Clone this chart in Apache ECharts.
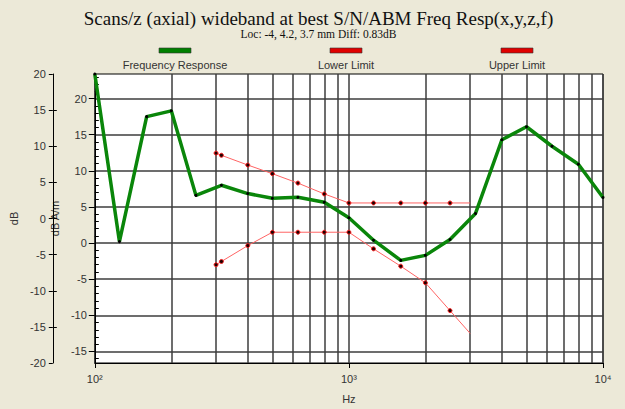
<!DOCTYPE html>
<html>
<head>
<meta charset="utf-8">
<script src="https://cdn.jsdelivr.net/npm/echarts@6/dist/echarts.min.js"></script>
<style>
html,body{margin:0;padding:0;background:#ECE9D8;}
#c{width:625px;height:409px;}
</style>
</head>
<body>
<div id="c"></div>
<script>
// ---- data ----
const respFreq = [100,125,160,200,250,315,400,500,630,800,1000,1250,1600,2000,2500,3150,4000,5000,6300,8000,10000];
const respVal  = [23.4,0.2,17.5,18.3,6.6,8.0,6.85,6.2,6.35,5.65,3.5,0.4,-2.4,-1.7,0.5,4.1,14.3,16.1,13.4,10.9,6.3];
const limFreq  = [300,315,400,500,630,800,1000,1250,1600,2000,2500,3000];
const upperVal = [12.45,12.15,10.8,9.6,8.3,6.8,5.55,5.55,5.55,5.55,5.55,5.55];
const lowerVal = [-3.0,-2.55,-0.35,1.5,1.5,1.5,1.5,-0.8,-3.2,-5.5,-9.35,-12.5];
const gridFreqs = [200,300,400,500,600,700,800,900,2000,3000,4000,5000,6000,7000,8000,9000];
const innerTicks = [-15,-10,-5,0,5,10,15,20];
const innerMinor = [-16,-14,-13,-12,-11,-9,-8,-7,-6,-4,-3,-2,-1,1,2,3,4,6,7,8,9,11,12,13,14,16,17,18,19,21,22,23];
const outerTicks = [-20,-15,-10,-5,0,5,10,15,20];
const outerInner = [-15,-10,-5,0,5,10,15];
const seriesNames = ['Frequency Response','Lower Limit','Upper Limit'];
const titleText = 'Scans/z (axial) wideband at best S/N/ABM Freq Resp(x,y,z,f)';
const subText = 'Loc: -4, 4.2, 3.7 mm Diff: 0.83dB';

const sup = {'2':'\u00B2','3':'\u00B3','4':'\u2074','5':'\u2075'};
function pairs(xs, ys, lastNoMarker){
  return xs.map((x,i)=>{
    if (lastNoMarker && i === xs.length-1) return {value:[x,ys[i]], symbol:'none'};
    return [x, ys[i]];
  });
}
const gridColor = '#3c3c3c';
const chart = echarts.init(document.getElementById('c'), null, {renderer:'svg'});
const legendX = [175, 346, 517];
const legendColors = ['#008000', '#e00000', '#e00000'];
const graphics = [
  {type:'text', style:{x:318.5, y:18, text:titleText, textAlign:'center', textVerticalAlign:'middle', font:'19px "Liberation Serif"', fill:'#111'}},
  {type:'text', style:{x:318.5, y:34, text:subText, textAlign:'center', textVerticalAlign:'middle', font:'11.5px "Liberation Serif"', fill:'#111'}}
];
seriesNames.forEach((n,i)=>{
  graphics.push({type:'rect', shape:{x:legendX[i]-16, y:48, width:32, height:5}, style:{fill:legendColors[i], stroke:'#333', lineWidth:0.6}});
  graphics.push({type:'text', style:{x:legendX[i], y:65, text:n, textAlign:'center', textVerticalAlign:'middle', font:'11px "Liberation Sans"', fill:'#333'}});
});
const labelFont = {fontFamily:'Liberation Sans', fontSize:11, color:'#333'};

chart.setOption({
  backgroundColor:'#ECE9D8',
  animation:false,
  graphic: graphics,
  grid:{left:91, top:74, width:512, height:302, show:true, backgroundColor:'#fff', borderColor:'#000', borderWidth:1},
  xAxis:{
    type:'log', logBase:10, min:100, max:10000,
    name:'Hz', nameLocation:'middle', nameGap:30,
    nameTextStyle:labelFont,
    axisLine:{onZero:false, lineStyle:{color:'#000'}},
    axisTick:{show:true, length:5, lineStyle:{color:'#000'}},
    axisLabel:Object.assign({margin:10,
      formatter:v=>{const e=Math.round(Math.log10(v)); return '10'+(sup[e]||e);}}, labelFont),
    splitLine:{show:true, lineStyle:{color:gridColor, width:1.5}}
  },
  yAxis:[
    { // inner data axis
      type:'value', min:-16.6, max:23.4, position:'left',
      name:'dB A/m', nameLocation:'middle', nameGap:31, nameRotate:90,
      nameTextStyle:labelFont,
      axisLine:{show:true, onZero:false, lineStyle:{color:'#000'}},
      axisTick:{show:true, length:6, customValues:innerTicks, lineStyle:{color:'#000'}},
      axisLabel:Object.assign({margin:8, customValues:innerTicks}, labelFont),
      splitLine:{show:true, lineStyle:{color:gridColor, width:1.5}}
    },
    { // inner minor ticks overlay
      type:'value', min:-16.6, max:23.4, position:'left',
      axisLine:{show:false, onZero:false}, axisLabel:{show:false}, splitLine:{show:false},
      axisTick:{show:true, inside:true, length:4, customValues:innerMinor, lineStyle:{color:'#000'}}
    },
    { // outer dB axis
      type:'value', min:-20, max:20, position:'left', offset:42,
      name:'dB', nameLocation:'middle', nameGap:17, nameRotate:90,
      nameTextStyle:labelFont,
      axisLine:{show:true, onZero:false, lineStyle:{color:'#000'}},
      axisTick:{show:true, length:4, customValues:outerTicks, lineStyle:{color:'#000'}},
      axisLabel:Object.assign({margin:7, customValues:outerTicks}, labelFont),
      splitLine:{show:false}
    },
    { // outer inside ticks
      type:'value', min:-20, max:20, position:'left', offset:42,
      axisLine:{show:false, onZero:false}, axisLabel:{show:false}, splitLine:{show:false},
      axisTick:{show:true, inside:true, length:4, customValues:outerInner, lineStyle:{color:'#000'}}
    }
  ],
  series:[
    {
      name:seriesNames[0], type:'line', yAxisIndex:0, data:pairs(respFreq, respVal),
      lineStyle:{color:'#0a860a', width:3.5}, itemStyle:{color:'#000'},
      symbol:'circle', symbolSize:3, showSymbol:true, z:5,
      markLine:{silent:true, symbol:'none', label:{show:false},
        lineStyle:{color:gridColor, width:1.5, type:'solid'},
        data: gridFreqs.map(f=>({xAxis:f})), z:1}
    },
    {
      name:seriesNames[1], type:'line', yAxisIndex:0, data:pairs(limFreq, lowerVal, true),
      lineStyle:{color:'#ff6464', width:1}, itemStyle:{color:'#200000', borderColor:'#ff2020', borderWidth:1},
      symbol:'circle', symbolSize:4, z:4
    },
    {
      name:seriesNames[2], type:'line', yAxisIndex:0, data:pairs(limFreq, upperVal, true),
      lineStyle:{color:'#ff6464', width:1}, itemStyle:{color:'#200000', borderColor:'#ff2020', borderWidth:1},
      symbol:'circle', symbolSize:4, z:4
    }
  ]
});
</script>
</body>
</html>
